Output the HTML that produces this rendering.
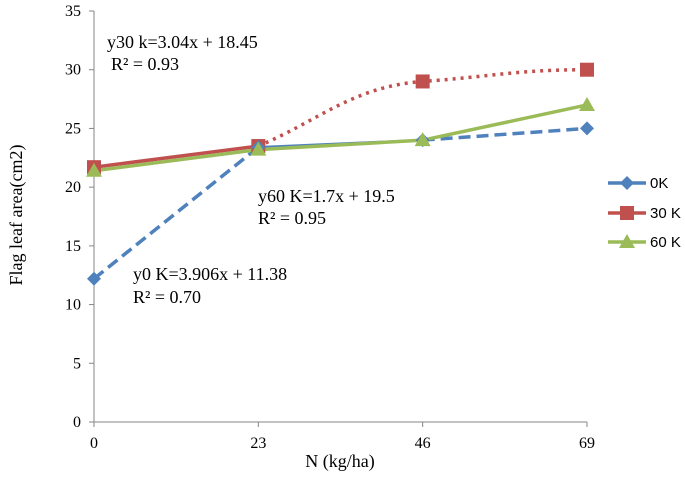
<!DOCTYPE html>
<html><head><meta charset="utf-8"><style>
body{margin:0;background:#fff}
svg text{font-family:"Liberation Serif",serif;fill:#000}
</style></head><body>
<svg id="c" width="685" height="473"></svg>
<script>
const categories=["0","23","46","69"];
const k0=[12.2,23.4,24.0,25.0];
const k30=[21.7,23.5,29.0,30.0];
const k60=[21.4,23.2,24.0,27.0];
const yTicks=[0,5,10,15,20,25,30,35];
const seriesNames=["0K","30 K","60 K"];
const NS="http://www.w3.org/2000/svg";
const svg=document.getElementById('c');
const X0=94,X1=587,Y0=422,Y1=11;
const x=i=>X0+i*(X1-X0)/(categories.length-1);
const y=v=>Y0-v*(Y0-Y1)/35;
function el(t,a,txt){const e=document.createElementNS(NS,t);for(const k in a)e.setAttribute(k,a[k]);if(txt!==undefined)e.textContent=txt;svg.appendChild(e);return e;}
let e;
e=el('line',{x1:X0,y1:Y1,x2:X0,y2:Y0,stroke:'#868686','stroke-width':1});


e=el('line',{x1:X0,y1:Y0,x2:X1,y2:Y0,stroke:'#868686','stroke-width':1});


yTicks.forEach(t=>{
 el('line',{x1:X0-5,y1:y(t),x2:X0,y2:y(t),stroke:'#868686'});
 e=el('text',{x:X0-13,y:y(t)+5,'text-anchor':'end','font-size':16},t);
 
 
});
categories.forEach((c,i)=>{
 el('line',{x1:x(i),y1:Y0,x2:x(i),y2:Y0+5,stroke:'#868686'});
 e=el('text',{x:x(i),y:Y0+26,'text-anchor':'middle','font-size':16},c);
 
 
});
e=el('text',{x:340,y:467,'text-anchor':'middle','font-size':18},'N (kg/ha)');


e=el('text',{x:0,y:0,'text-anchor':'middle','font-size':18,transform:'translate(22,215) rotate(-90)'},'Flag leaf area(cm2)');


function seg(d,i,col,dash,w){const a={x1:x(i),y1:y(d[i]),x2:x(i+1),y2:y(d[i+1]),stroke:col,'stroke-width':w||3.5};if(dash)a['stroke-dasharray']=dash;return el('line',a);}
e=seg(k30,0,'#c0504d');
e=el('path',{d:`M${x(1)},${y(k30[1])} C${x(1)+60},${y(k30[1])-25} ${x(2)-70},${y(k30[2])+5} ${x(2)},${y(k30[2])} S${x(3)-70},${y(k30[3])} ${x(3)},${y(k30[3])}`,fill:'none',stroke:'#c0504d','stroke-width':3.5,'stroke-dasharray':'3 5'});

e=seg(k0,0,'#4f81bd','12 6');
e=seg(k0,1,'#4f81bd',null,2.5);
e=seg(k0,2,'#4f81bd','12 6');
for(let i=0;i<3;i++){e=seg(k60,i,'#9bbb59');}
function marker(type,cx,cy,col){
 if(type==='d')return el('polygon',{points:`${cx},${cy-7} ${cx+7},${cy} ${cx},${cy+7} ${cx-7},${cy}`,fill:col});
 if(type==='s')return el('rect',{x:cx-7,y:cy-7,width:14,height:14,fill:col});
 return el('polygon',{points:`${cx},${cy-8} ${cx+8},${cy+6} ${cx-8},${cy+6}`,fill:col});
}
k30.forEach((v,i)=>{e=marker('s',x(i),y(v),'#c0504d');});
k0.forEach((v,i)=>{e=marker('d',x(i),y(v),'#4f81bd');});
k60.forEach((v,i)=>{e=marker('t',x(i),y(v),'#9bbb59');});
const ann=[[107,48,'y30 k=3.04x + 18.45'],[111,70,'R² = 0.93'],[258,202,'y60 K=1.7x + 19.5'],[258,224,'R² = 0.95'],[133,280,'y0 K=3.906x + 11.38'],[133,303,'R² = 0.70']];
ann.forEach(a=>{e=el('text',{x:a[0],y:a[1],'font-size':18},a[2]);});
const cols=['#4f81bd','#c0504d','#9bbb59'],types=['d','s','t'],ly=[183,213,242];
seriesNames.forEach((n,i)=>{
 e=el('line',{x1:608,y1:ly[i],x2:646,y2:ly[i],stroke:cols[i],'stroke-width':3.5});
 
 e=marker(types[i],627,ly[i],cols[i]);
 e=el('text',{x:650,y:ly[i]+5,'font-size':15,style:'font-family:"Liberation Sans",sans-serif'},n);
 
});
</script>
</body></html>
